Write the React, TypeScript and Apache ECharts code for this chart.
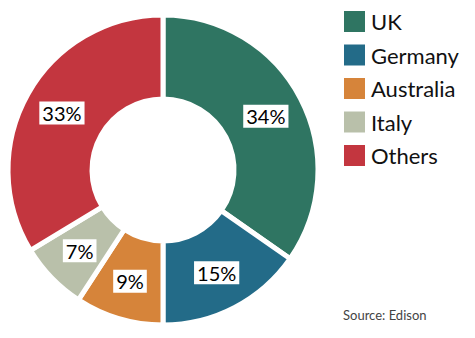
import React, { useEffect, useRef } from "react";
import * as echarts from "echarts";

const categories = ["UK", "Germany", "Australia", "Italy", "Others"];
const shares = [34, 15, 9, 7, 33];
const colors = ["#2f7562", "#236b88", "#d6843a", "#b9c0aa", "#c3363f"];
const sourceText = "Source: Edison";

export default function App() {
  const ref = useRef<HTMLDivElement>(null);
  useEffect(() => {
    if (!ref.current) return;
    const chart = echarts.init(ref.current, null, { renderer: "svg" });
    chart.setOption({
      animation: false,
      backgroundColor: "#ffffff",
      color: colors,
      legend: {
        orient: "vertical",
        left: 338,
        top: 5,
        padding: 4,
        itemWidth: 23,
        itemHeight: 23,
        itemGap: 8.5,
        icon: "rect",
        data: categories,
        textStyle: { fontFamily: "Lato", fontSize: 22, lineHeight: 23, color: "#111" },
      },
      series: [
        {
          type: "pie",
          center: [163, 170],
          radius: [71, 155],
          startAngle: 90,
          clockwise: true,
          data: categories.map((name, i) => ({ name, value: shares[i] })),
          itemStyle: { borderColor: "#ffffff", borderWidth: 5 },
          label: {
            show: true,
            position: "inside",
            formatter: (p: any) => p.value + "%",
            fontFamily: "Lato",
            fontSize: 20,
            color: "#000",
            backgroundColor: "#ffffff",
            padding: [2, 3, 1, 3],
          },
          labelLine: { show: false },
          emphasis: { disabled: true },
        },
      ],
      graphic: [
        {
          type: "text",
          left: 343,
          top: 308,
          style: { text: sourceText, fontFamily: "Lato", fontSize: 13, fill: "#444" },
        },
      ],
    });
    return () => chart.dispose();
  }, []);
  return (
    <div
      ref={ref}
      style={{ position: "fixed", left: 0, top: 0, width: 475, height: 338 }}
    />
  );
}
